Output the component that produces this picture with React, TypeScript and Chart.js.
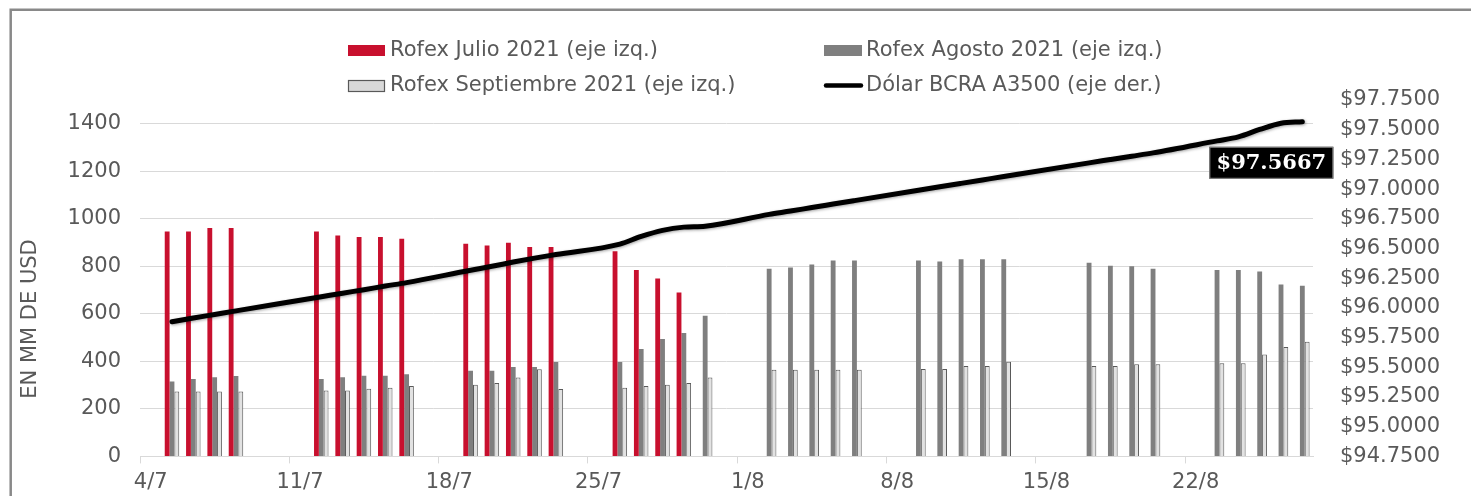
import React, { useEffect, useRef } from 'react';
import { Chart, registerables } from 'chart.js';

Chart.register(...registerables);

// ---- Data ----
const axisDays: string[] = [
  '4/7', '5/7', '6/7', '7/7', '8/7', '9/7', '10/7', '11/7', '12/7', '13/7', '14/7', '15/7', '16/7', '17/7',
  '18/7', '19/7', '20/7', '21/7', '22/7', '23/7', '24/7', '25/7', '26/7', '27/7', '28/7', '29/7', '30/7', '31/7',
  '1/8', '2/8', '3/8', '4/8', '5/8', '6/8', '7/8', '8/8', '9/8', '10/8', '11/8', '12/8', '13/8', '14/8',
  '15/8', '16/8', '17/8', '18/8', '19/8', '20/8', '21/8', '22/8', '23/8', '24/8', '25/8', '26/8', '27/8',
];

const tradeDays: string[] = [
  '5/7', '6/7', '7/7', '8/7',
  '12/7', '13/7', '14/7', '15/7', '16/7',
  '19/7', '20/7', '21/7', '22/7', '23/7',
  '26/7', '27/7', '28/7', '29/7', '30/7',
  '2/8', '3/8', '4/8', '5/8', '6/8',
  '9/8', '10/8', '11/8', '12/8', '13/8',
  '17/8', '18/8', '19/8', '20/8',
  '23/8', '24/8', '25/8', '26/8', '27/8',
];

const julio: (number | null)[] = [
  947, 947, 961, 961,
  947, 930, 923, 923, 916,
  895, 888, 899, 881, 881,
  863, 785, 749, 690, null,
  null, null, null, null, null,
  null, null, null, null, null,
  null, null, null, null,
  null, null, null, null, null,
];

const agosto: (number | null)[] = [
  315, 326, 333, 338,
  326, 333, 339, 339, 346,
  361, 361, 376, 376, 397,
  397, 452, 494, 519, 592,
  790, 795, 808, 825, 825,
  825, 820, 830, 830, 830,
  815, 802, 800, 790,
  785, 785, 778, 723, 718,
];

const septiembre: (number | null)[] = [
  273, 273, 273, 273,
  277, 277, 285, 289, 296,
  302, 309, 332, 367, 284,
  289, 296, 302, 309, 332,
  365, 365, 365, 365, 365,
  368, 368, 380, 380, 398,
  380, 380, 388, 388,
  392, 392, 429, 460, 483,
];

const dolar: (number | null)[] = [
  95.883, 95.915, 95.945, 95.975,
  96.094, 96.124, 96.153, 96.184, 96.213,
  96.317, 96.350, 96.386, 96.419, 96.449,
  96.537, 96.602, 96.653, 96.680, 96.688,
  96.787, 96.815, 96.845, 96.874, 96.903,
  96.990, 97.019, 97.048, 97.077, 97.106,
  97.221, 97.249, 97.277, 97.305,
  97.406, 97.440, 97.502, 97.555, 97.5667,
];

const seriesNames: string[] = [
  'Dólar BCRA A3500 (eje der.)',
  'Rofex Julio 2021 (eje izq.)',
  'Rofex Agosto 2021 (eje izq.)',
  'Rofex Septiembre 2021 (eje izq.)',
];

const leftMin = 0;
const leftMax = 1500;
const leftTickValues: number[] = [0, 200, 400, 600, 800, 1000, 1200, 1400];
const rightMin = 94.75;
const rightMax = 97.75;
const rightStep = 0.25;
const axisTitle = 'EN MM DE USD';

// ---- Styles ----
const FONT = "'DejaVu Sans', sans-serif";
const TXT = '#595959';
const RED = '#C8102E';
const GRAY = '#7F7F7F';
const LIGHT = '#E2E2E2';

const byDay = (vals: (number | null)[]) =>
  axisDays.map((d) => {
    const i = tradeDays.indexOf(d);
    return i < 0 ? null : vals[i];
  });

const decorPlugin = {
  id: 'decor',
  beforeDatasetDraw(chart: any, args: any) {
    if (args.index === 0) {
      const ctx = chart.ctx;
      ctx.save();
      ctx.shadowColor = 'rgba(0,0,0,0.35)';
      ctx.shadowBlur = 3;
      ctx.shadowOffsetX = 1;
      ctx.shadowOffsetY = 1;
    }
  },
  afterDatasetDraw(chart: any, args: any) {
    if (args.index === 0) chart.ctx.restore();
  },
  afterDraw(chart: any) {
    const ctx = chart.ctx;
    ctx.save();
    // frame
    ctx.strokeStyle = '#898989';
    ctx.lineWidth = 2.5;
    ctx.beginPath();
    ctx.moveTo(10.7, 500);
    ctx.lineTo(10.7, 9.7);
    ctx.lineTo(1480, 9.7);
    ctx.stroke();

    // legend
    const ds = chart.data.datasets;
    ctx.font = `21px ${FONT}`;
    ctx.textAlign = 'left';
    ctx.textBaseline = 'middle';
    // Julio
    ctx.fillStyle = RED;
    ctx.fillRect(348, 45, 37, 11);
    ctx.fillStyle = TXT;
    ctx.fillText(ds[1].label, 390, 50.5);
    // Septiembre
    ctx.fillStyle = '#D9D9D9';
    ctx.fillRect(348, 80, 37, 11);
    ctx.strokeStyle = '#595959';
    ctx.lineWidth = 1.2;
    ctx.strokeRect(348.5, 80.5, 36, 11);
    ctx.fillStyle = TXT;
    ctx.fillText(ds[3].label, 390, 86);
    // Agosto
    ctx.fillStyle = GRAY;
    ctx.fillRect(824, 45, 38, 11);
    ctx.fillStyle = TXT;
    ctx.fillText(ds[2].label, 866, 50.5);
    // Dolar
    ctx.strokeStyle = '#000';
    ctx.lineWidth = 4.5;
    ctx.lineCap = 'round';
    ctx.beginPath();
    ctx.moveTo(826, 85.5);
    ctx.lineTo(861, 85.5);
    ctx.stroke();
    ctx.fillStyle = TXT;
    ctx.fillText(ds[0].label, 866, 86);

    // axis title
    ctx.save();
    ctx.translate(31, 319);
    ctx.rotate(-Math.PI / 2);
    ctx.textAlign = 'center';
    ctx.textBaseline = 'middle';
    ctx.fillStyle = TXT;
    ctx.font = `21px ${FONT}`;
    ctx.fillText(axisTitle, 0, 0);
    ctx.restore();

    // data label on last point of the line
    const meta = chart.getDatasetMeta(0);
    const data = ds[0].data as (number | null)[];
    let last = -1;
    for (let i = data.length - 1; i >= 0; i--) {
      if (data[i] !== null && data[i] !== undefined) { last = i; break; }
    }
    if (last >= 0) {
      const pt = meta.data[last];
      const val = data[last] as number;
      const bw = 124;
      const bh = 32;
      const bx = pt.x - 93;
      const by = pt.y + 25;
      ctx.fillStyle = '#000';
      ctx.fillRect(bx, by, bw, bh);
      ctx.strokeStyle = '#8c8c8c';
      ctx.lineWidth = 1;
      ctx.strokeRect(bx + 0.5, by + 0.5, bw - 1, bh - 1);
      ctx.fillStyle = '#fff';
      ctx.font = `bold 21px 'DejaVu Serif', serif`;
      ctx.textAlign = 'center';
      ctx.textBaseline = 'middle';
      ctx.fillText('$' + val.toFixed(4), bx + bw / 2, by + bh / 2 + 1);
    }
    ctx.restore();
  },
};

export default function App() {
  const ref = useRef<HTMLCanvasElement>(null);

  useEffect(() => {
    if (!ref.current) return;
    const barCommon = {
      yAxisID: 'y',
      order: 1,
      categoryPercentage: 0.68,
      barPercentage: 1.0,
    };
    const chart = new Chart(ref.current, {
      type: 'bar',
      data: {
        labels: axisDays,
        datasets: [
          {
            type: 'line',
            label: seriesNames[0],
            data: byDay(dolar),
            yAxisID: 'y1',
            borderColor: '#000000',
            backgroundColor: '#000000',
            borderWidth: 5,
            pointRadius: 0,
            spanGaps: true,
            cubicInterpolationMode: 'monotone',
            borderCapStyle: 'round',
            borderJoinStyle: 'round',
            order: 0,
          } as any,
          {
            ...barCommon,
            label: seriesNames[1],
            data: byDay(julio),
            backgroundColor: RED,
          },
          {
            ...barCommon,
            label: seriesNames[2],
            data: byDay(agosto),
            backgroundColor: GRAY,
          },
          {
            ...barCommon,
            label: seriesNames[3],
            data: byDay(septiembre),
            backgroundColor: LIGHT,
            borderColor: '#595959',
            borderWidth: 1,
          },
        ],
      },
      options: {
        responsive: true,
        maintainAspectRatio: false,
        animation: false,
        devicePixelRatio: 1,
        layout: { padding: { top: 100, left: 0, right: 0, bottom: 0 } },
        plugins: {
          legend: { display: false },
          tooltip: { enabled: false },
          title: { display: false },
        },
        scales: {
          x: {
            type: 'category',
            offset: true,
            grid: {
              display: true,
              offset: true,
              drawOnChartArea: false,
              drawTicks: true,
              tickLength: 7,
              tickWidth: 1,
              tickColor: (c: any) => (c.index % 7 === 0 ? '#D9D9D9' : 'rgba(0,0,0,0)'),
            },
            border: { display: true, color: '#D9D9D9', width: 1 },
            ticks: {
              autoSkip: false,
              maxRotation: 0,
              minRotation: 0,
              padding: 7,
              color: TXT,
              font: { family: FONT, size: 21 },
              callback: (_v: any, index: number) => (index % 7 === 0 ? axisDays[index] : ''),
            },
            afterFit: (s: any) => { s.height = 38; },
          },
          y: {
            type: 'linear',
            position: 'left',
            min: leftMin,
            max: leftMax,
            bounds: 'data',
            grid: { color: '#D9D9D9', lineWidth: 1, drawTicks: false },
            border: { display: false },
            ticks: {
              padding: 19,
              color: TXT,
              font: { family: FONT, size: 21 },
              callback: (v: any) => String(v),
            },
            afterBuildTicks: (s: any) => {
              s.ticks = leftTickValues.map((value) => ({ value }));
            },
            afterFit: (s: any) => { s.width = 140; },
          },
          y1: {
            type: 'linear',
            position: 'right',
            min: rightMin,
            max: rightMax,
            bounds: 'data',
            grid: { drawOnChartArea: false, drawTicks: false },
            border: { display: false },
            ticks: {
              stepSize: rightStep,
              padding: 27,
              color: TXT,
              font: { family: FONT, size: 21 },
              callback: (v: any) => '$' + Number(v).toFixed(4),
            },
            afterFit: (s: any) => { s.width = 158; },
          },
        },
      } as any,
      plugins: [decorPlugin],
    });
    return () => chart.destroy();
  }, []);

  return (
    <div
      style={{
        position: 'absolute',
        left: 0,
        top: 0,
        width: 1471,
        height: 496,
        overflow: 'hidden',
        background: '#ffffff',
      }}
    >
      <canvas ref={ref} />
    </div>
  );
}
